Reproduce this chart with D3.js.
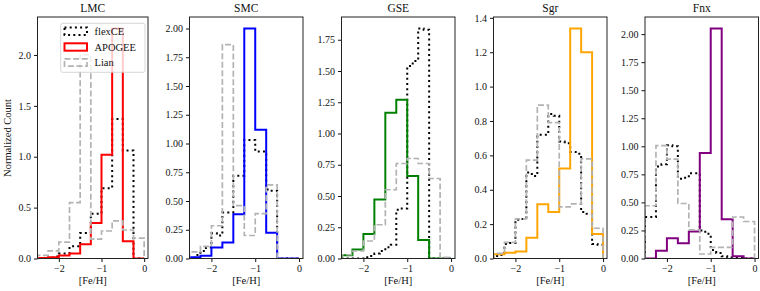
<!DOCTYPE html>
<html>
<head>
<meta charset="utf-8">
<script src="https://cdn.jsdelivr.net/npm/d3@7"></script>
<style>
  body { margin: 0; background: #fff; }
  svg { font-family: "Liberation Serif", "DejaVu Serif", serif; }
</style>
</head>
<body>
<svg width="760" height="291"></svg>
<script>
// bin edges ([Fe/H])
const coarseEdges = [-2.5, -2.25, -2.0, -1.75, -1.5, -1.25, -1.0, -0.75, -0.5, -0.25, 0.0];
const fineEdges = [-2.5, -2.375, -2.25, -2.125, -2.0, -1.875, -1.75, -1.625, -1.5, -1.375,
  -1.25, -1.125, -1.0, -0.875, -0.75, -0.625, -0.5, -0.375, -0.25, -0.125, 0.0];

const galaxies = ["LMC", "SMC", "GSE", "Sgr", "Fnx"];
const apogeeColors = ["red", "blue", "green", "orange", "purple"];

// APOGEE (coarse bins)
const apogeeLMC = [0.005, 0.012, 0.03, 0.05, 0.14, 0.35, 1.02, 2.26, 0.17, 0.0];
const apogeeSMC = [0.01, 0.025, 0.095, 0.14, 0.385, 2.0, 1.12, 0.225, 0.0, 0.0];
const apogeeGSE = [0.027, 0.072, 0.197, 0.472, 1.167, 1.27, 0.66, 0.148, 0.0, 0.0];
const apogeeSgr = [0.025, 0.033, 0.04, 0.12, 0.316, 0.27, 0.523, 1.338, 1.2, 0.143];
const apogeeFnx = [0.0, 0.07, 0.18, 0.135, 0.24, 0.94, 2.05, 0.35, 0.02, 0.0];

// Lian (coarse bins)
const lianLMC = [0.03, 0.075, 0.16, 0.55, 2.0, 0.19, 0.27, 0.37, 0.28, 0.2];
const lianSMC = [0.058, 0.105, 0.285, 1.86, 0.46, 0.2, 0.39, 0.64, 0.0, 0.0];
const lianGSE = [0.03, 0.06, 0.14, 0.27, 0.55, 0.76, 0.8, 0.76, 0.64, 0.01];
const lianSgr = [0.03, 0.094, 0.23, 0.572, 0.892, 0.79, 0.3, 0.318, 0.58, 0.176];
const lianFnx = [0.47, 1.006, 0.886, 0.49, 0.255, 0.04, 0.1, 0.1, 0.37, 0.33];

// flexCE (fine bins)
const flexLMC = [0, 0, 0.01, 0.02, 0.05, 0.05, 0.12, 0.12, 0.25, 0.25,
  0.44, 0.44, 0.69, 0.69, 1.37, 1.37, 1.06, 1.06, 0, 0];
const flexSMC = [0.005, 0.03, 0.065, 0.095, 0.22, 0.2, 0.4, 0.4, 0.72, 0.72,
  1.03, 1.03, 0.93, 0.93, 0.6, 0.59, 0, 0, 0, 0];
const flexGSE = [0, 0, 0, 0, 0.01, 0.02, 0.04, 0.06, 0.09, 0.11,
  0.39, 0.4, 1.54, 1.58, 1.84, 1.83, 0, 0, 0, 0];
const flexSgr = [0.015, 0.02, 0.085, 0.09, 0.225, 0.23, 0.5, 0.48, 0.72, 0.72,
  0.84, 0.83, 0.68, 0.67, 0.62, 0.61, 0.27, 0.26, 0.085, 0.08];
const flexFnx = [0.37, 0.37, 0.82, 0.84, 1.01, 1.0, 0.71, 0.72, 0.76, 0.76,
  0.25, 0.22, 0.075, 0.05, 0.02, 0.01, 0.01, 0.01, 0, 0];

// ticks
const xTicks = [-2, -1, 0];
const yTicksLMC = [0, 0.5, 1.0, 1.5, 2.0];
const yTicksSMC = [0, 0.25, 0.5, 0.75, 1.0, 1.25, 1.5, 1.75, 2.0];
const yTicksGSE = [0, 0.25, 0.5, 0.75, 1.0, 1.25, 1.5, 1.75];
const yTicksSgr = [0, 0.2, 0.4, 0.6, 0.8, 1.0, 1.2, 1.4];
const yTicksFnx = [0, 0.25, 0.5, 0.75, 1.0, 1.25, 1.5, 1.75, 2.0];
const yDecimals = [1, 2, 2, 1, 2];

const apogeeAll = [apogeeLMC, apogeeSMC, apogeeGSE, apogeeSgr, apogeeFnx];
const lianAll = [lianLMC, lianSMC, lianGSE, lianSgr, lianFnx];
const flexAll = [flexLMC, flexSMC, flexGSE, flexSgr, flexFnx];
const yTicksAll = [yTicksLMC, yTicksSMC, yTicksGSE, yTicksSgr, yTicksFnx];

// layout
const panelLeft = [37.5, 189.5, 341.5, 493.5, 645];
const panelWidth = [110.5, 113.5, 113.5, 113.5, 113.5];
const plotTop = 17, plotBottom = 258.5;

const svg = d3.select("svg");

function stepPoints(edges, values) {
  const pts = [[edges[0], 0]];
  values.forEach((v, k) => {
    pts.push([edges[k], v]);
    pts.push([edges[k + 1], v]);
  });
  pts.push([edges[edges.length - 1], 0]);
  return pts;
}

galaxies.forEach((name, i) => {
  const left = panelLeft[i];
  const right = left + panelWidth[i];
  const x = d3.scaleLinear().domain([-2.5, 0.09]).range([left, right]);
  const ymax = d3.max([...apogeeAll[i], ...lianAll[i], ...flexAll[i]]) * 1.05;
  const y = d3.scaleLinear().domain([0, ymax]).range([plotBottom, plotTop]);

  const g = svg.append("g");

  g.append("clipPath").attr("id", "clip" + i)
    .append("rect").attr("x", left).attr("y", plotTop)
    .attr("width", right - left).attr("height", plotBottom - plotTop);

  const line = d3.line().x(d => x(d[0])).y(d => y(d[1]));
  const plot = g.append("g").attr("clip-path", `url(#clip${i})`);

  plot.append("path")
    .attr("d", line(stepPoints(fineEdges, flexAll[i])))
    .attr("fill", "none").attr("stroke", "#000")
    .attr("stroke-width", 2).attr("stroke-dasharray", "2,3.2");

  plot.append("path")
    .attr("d", line(stepPoints(coarseEdges, apogeeAll[i])))
    .attr("fill", "none").attr("stroke", apogeeColors[i])
    .attr("stroke-width", 2);

  plot.append("path")
    .attr("d", line(stepPoints(coarseEdges, lianAll[i])))
    .attr("fill", "none").attr("stroke", "#b3b3b3")
    .attr("stroke-width", 1.7).attr("stroke-dasharray", "6,2.6");

  // axes
  const yAxis = d3.axisLeft(y).tickValues(yTicksAll[i])
    .tickSize(3.5).tickPadding(3)
    .tickFormat(d => d3.format(`.${yDecimals[i]}f`)(d));
  const ya = g.append("g").attr("transform", `translate(${left},0)`).call(yAxis);

  const xAxis = d3.axisBottom(x).tickValues(xTicks)
    .tickSize(3.5).tickPadding(2.5)
    .tickFormat(d => d === 0 ? "0" : "\u2212" + Math.abs(d));
  const xa = g.append("g").attr("transform", `translate(0,${plotBottom})`).call(xAxis);

  [ya, xa].forEach(a => {
    a.select(".domain").remove();
    a.selectAll("text").attr("font-family", "Liberation Serif, serif")
      .attr("font-size", 10).attr("fill", "#111");
    a.selectAll("line").attr("stroke", "#111");
  });

  g.append("rect")
    .attr("x", left).attr("y", plotTop)
    .attr("width", right - left).attr("height", plotBottom - plotTop)
    .attr("fill", "none").attr("stroke", "#222").attr("stroke-width", 1);

  g.append("text")
    .attr("x", (left + right) / 2).attr("y", 11.5)
    .attr("text-anchor", "middle").attr("font-size", 11.5).attr("fill", "#111")
    .text(name);

  g.append("text")
    .attr("x", (left + right) / 2).attr("y", 284)
    .attr("text-anchor", "middle").attr("font-size", 10.5).attr("fill", "#111")
    .text("[Fe/H]");

  if (i === 0) {
    // legend
    const lg = g.append("g");
    lg.append("rect")
      .attr("x", 60.7).attr("y", 23.3).attr("width", 84.3).attr("height", 49)
      .attr("rx", 2).attr("fill", "#fff").attr("fill-opacity", 0.8)
      .attr("stroke", "#ccc").attr("stroke-width", 0.8);
    const entries = [
      { label: "flexCE", stroke: "#000", dash: "2,3.2", width: 2 },
      { label: "APOGEE", stroke: apogeeColors[0], dash: null, width: 2 },
      { label: "Lian", stroke: "#b3b3b3", dash: "6,2.6", width: 1.7 }
    ];
    const rowY = [31.2, 47, 62.5];
    entries.forEach((e, k) => {
      lg.append("rect")
        .attr("x", 64.5).attr("y", rowY[k] - 3.7).attr("width", 22.5).attr("height", 7.4)
        .attr("fill", "none").attr("stroke", e.stroke).attr("stroke-width", e.width)
        .attr("stroke-dasharray", e.dash);
      lg.append("text")
        .attr("x", 94.5).attr("y", rowY[k] + 3.6)
        .attr("font-size", 10.5).attr("fill", "#111")
        .text(e.label);
    });

    g.append("text")
      .attr("transform", "translate(11,138) rotate(-90)")
      .attr("text-anchor", "middle").attr("font-size", 10.5).attr("fill", "#111")
      .text("Normalized Count");
  }
});
</script>
</body>
</html>
